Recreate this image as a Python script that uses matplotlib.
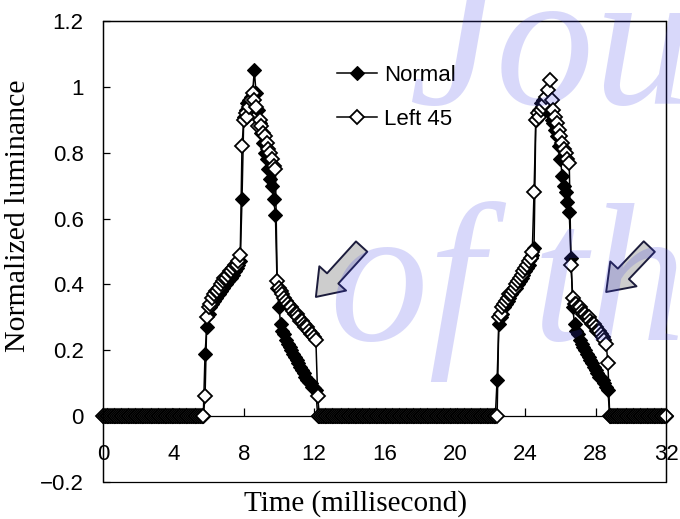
import matplotlib
matplotlib.use("Agg")
import matplotlib.pyplot as plt
from matplotlib.patches import Rectangle
from matplotlib.ticker import FixedLocator, FuncFormatter

# sample times (ms), one row per millisecond
time_ms = [
    0.0, 0.1, 0.2, 0.3, 0.4, 0.5, 0.6, 0.7, 0.8, 0.9,
    1.0, 1.1, 1.2, 1.3, 1.4, 1.5, 1.6, 1.7, 1.8, 1.9,
    2.0, 2.1, 2.2, 2.3, 2.4, 2.5, 2.6, 2.7, 2.8, 2.9,
    3.0, 3.1, 3.2, 3.3, 3.4, 3.5, 3.6, 3.7, 3.8, 3.9,
    4.0, 4.1, 4.2, 4.3, 4.4, 4.5, 4.6, 4.7, 4.8, 4.9,
    5.0, 5.1, 5.2, 5.3, 5.4, 5.5, 5.6, 5.7, 5.8, 5.9,
    6.0, 6.1, 6.2, 6.3, 6.4, 6.5, 6.6, 6.7, 6.8, 6.9,
    7.0, 7.1, 7.2, 7.3, 7.4, 7.5, 7.6, 7.7, 7.8, 7.9,
    8.0, 8.1, 8.2, 8.3, 8.4, 8.5, 8.6, 8.7, 8.8, 8.9,
    9.0, 9.1, 9.2, 9.3, 9.4, 9.5, 9.6, 9.7, 9.8, 9.9,
    10.0, 10.1, 10.2, 10.3, 10.4, 10.5, 10.6, 10.7, 10.8, 10.9,
    11.0, 11.1, 11.2, 11.3, 11.4, 11.5, 11.6, 11.7, 11.8, 11.9,
    12.0, 12.1, 12.2, 12.3, 12.4, 12.5, 12.6, 12.7, 12.8, 12.9,
    13.0, 13.1, 13.2, 13.3, 13.4, 13.5, 13.6, 13.7, 13.8, 13.9,
    14.0, 14.1, 14.2, 14.3, 14.4, 14.5, 14.6, 14.7, 14.8, 14.9,
    15.0, 15.1, 15.2, 15.3, 15.4, 15.5, 15.6, 15.7, 15.8, 15.9,
    16.0, 16.1, 16.2, 16.3, 16.4, 16.5, 16.6, 16.7, 16.8, 16.9,
    17.0, 17.1, 17.2, 17.3, 17.4, 17.5, 17.6, 17.7, 17.8, 17.9,
    18.0, 18.1, 18.2, 18.3, 18.4, 18.5, 18.6, 18.7, 18.8, 18.9,
    19.0, 19.1, 19.2, 19.3, 19.4, 19.5, 19.6, 19.7, 19.8, 19.9,
    20.0, 20.1, 20.2, 20.3, 20.4, 20.5, 20.6, 20.7, 20.8, 20.9,
    21.0, 21.1, 21.2, 21.3, 21.4, 21.5, 21.6, 21.7, 21.8, 21.9,
    22.0, 22.1, 22.2, 22.3, 22.4, 22.5, 22.6, 22.7, 22.8, 22.9,
    23.0, 23.1, 23.2, 23.3, 23.4, 23.5, 23.6, 23.7, 23.8, 23.9,
    24.0, 24.1, 24.2, 24.3, 24.4, 24.5, 24.6, 24.7, 24.8, 24.9,
    25.0, 25.1, 25.2, 25.3, 25.4, 25.5, 25.6, 25.7, 25.8, 25.9,
    26.0, 26.1, 26.2, 26.3, 26.4, 26.5, 26.6, 26.7, 26.8, 26.9,
    27.0, 27.1, 27.2, 27.3, 27.4, 27.5, 27.6, 27.7, 27.8, 27.9,
    28.0, 28.1, 28.2, 28.3, 28.4, 28.5, 28.6, 28.7, 28.8, 28.9,
    29.0, 29.1, 29.2, 29.3, 29.4, 29.5, 29.6, 29.7, 29.8, 29.9,
    30.0, 30.1, 30.2, 30.3, 30.4, 30.5, 30.6, 30.7, 30.8, 30.9,
    31.0, 31.1, 31.2, 31.3, 31.4, 31.5, 31.6, 31.7, 31.8, 31.9,
    32.0,
]

# normalized luminance, normal view
normal = [
    0, 0, 0, 0, 0, 0, 0, 0, 0, 0,
    0, 0, 0, 0, 0, 0, 0, 0, 0, 0,
    0, 0, 0, 0, 0, 0, 0, 0, 0, 0,
    0, 0, 0, 0, 0, 0, 0, 0, 0, 0,
    0, 0, 0, 0, 0, 0, 0, 0, 0, 0,
    0, 0, 0, 0, 0, 0, 0, 0, 0.19, 0.27,
    0.31, 0.33, 0.34, 0.35, 0.36, 0.37, 0.37, 0.38, 0.39, 0.40,
    0.40, 0.41, 0.42, 0.42, 0.43, 0.44, 0.45, 0.46, 0.47, 0.66,
    0.91, 0.93, 0.95, 0.96, 0.97, 0.98, 1.05, 0.98, 0.93, 0.89,
    0.86, 0.83, 0.80, 0.78, 0.75, 0.72, 0.70, 0.66, 0.61, 0.39,
    0.33, 0.28, 0.26, 0.25, 0.23, 0.22, 0.21, 0.20, 0.19, 0.18,
    0.17, 0.16, 0.15, 0.14, 0.13, 0.12, 0.11, 0.105, 0.10, 0.09,
    0.085, 0.08, 0, 0, 0, 0, 0, 0, 0, 0,
    0, 0, 0, 0, 0, 0, 0, 0, 0, 0,
    0, 0, 0, 0, 0, 0, 0, 0, 0, 0,
    0, 0, 0, 0, 0, 0, 0, 0, 0, 0,
    0, 0, 0, 0, 0, 0, 0, 0, 0, 0,
    0, 0, 0, 0, 0, 0, 0, 0, 0, 0,
    0, 0, 0, 0, 0, 0, 0, 0, 0, 0,
    0, 0, 0, 0, 0, 0, 0, 0, 0, 0,
    0, 0, 0, 0, 0, 0, 0, 0, 0, 0,
    0, 0, 0, 0, 0, 0, 0, 0, 0, 0,
    0, 0, 0, 0, 0.11, 0.28, 0.30, 0.31, 0.33, 0.34,
    0.35, 0.36, 0.37, 0.38, 0.39, 0.39, 0.40, 0.41, 0.42, 0.43,
    0.44, 0.45, 0.46, 0.48, 0.49, 0.51, 0.90, 0.91, 0.93, 0.95,
    0.96, 0.95, 0.94, 0.93, 0.92, 0.90, 0.89, 0.87, 0.85, 0.82,
    0.78, 0.73, 0.70, 0.68, 0.65, 0.62, 0.48, 0.33, 0.28, 0.26,
    0.25, 0.23, 0.22, 0.21, 0.20, 0.19, 0.18, 0.17, 0.16, 0.15,
    0.14, 0.13, 0.12, 0.115, 0.11, 0.10, 0.09, 0.08, 0, 0,
    0, 0, 0, 0, 0, 0, 0, 0, 0, 0,
    0, 0, 0, 0, 0, 0, 0, 0, 0, 0,
    0, 0, 0, 0, 0, 0, 0, 0, 0, 0,
    0,
]

# normalized luminance, viewed from left 45 deg
left45 = [
    0, 0, 0, 0, 0, 0, 0, 0, 0, 0,
    0, 0, 0, 0, 0, 0, 0, 0, 0, 0,
    0, 0, 0, 0, 0, 0, 0, 0, 0, 0,
    0, 0, 0, 0, 0, 0, 0, 0, 0, 0,
    0, 0, 0, 0, 0, 0, 0, 0, 0, 0,
    0, 0, 0, 0, 0, 0, 0, 0, 0.06, 0.30,
    0.33, 0.34, 0.36, 0.37, 0.38, 0.38, 0.39, 0.40, 0.41, 0.42,
    0.42, 0.43, 0.44, 0.44, 0.45, 0.46, 0.46, 0.47, 0.49, 0.82,
    0.90, 0.92, 0.91, 0.94, 0.96, 0.98, 0.96, 0.94, 0.88, 0.90,
    0.88, 0.86, 0.85, 0.83, 0.81, 0.80, 0.78, 0.76, 0.75, 0.41,
    0.39, 0.38, 0.37, 0.36, 0.35, 0.34, 0.33, 0.33, 0.32, 0.31,
    0.31, 0.30, 0.29, 0.29, 0.28, 0.27, 0.27, 0.26, 0.25, 0.25,
    0.24, 0.23, 0.06, 0, 0, 0, 0, 0, 0, 0,
    0, 0, 0, 0, 0, 0, 0, 0, 0, 0,
    0, 0, 0, 0, 0, 0, 0, 0, 0, 0,
    0, 0, 0, 0, 0, 0, 0, 0, 0, 0,
    0, 0, 0, 0, 0, 0, 0, 0, 0, 0,
    0, 0, 0, 0, 0, 0, 0, 0, 0, 0,
    0, 0, 0, 0, 0, 0, 0, 0, 0, 0,
    0, 0, 0, 0, 0, 0, 0, 0, 0, 0,
    0, 0, 0, 0, 0, 0, 0, 0, 0, 0,
    0, 0, 0, 0, 0, 0, 0, 0, 0, 0,
    0, 0, 0, 0, 0, 0.30, 0.31, 0.33, 0.34, 0.35,
    0.36, 0.37, 0.37, 0.38, 0.39, 0.40, 0.41, 0.42, 0.43, 0.44,
    0.45, 0.46, 0.47, 0.48, 0.50, 0.68, 0.90, 0.92, 0.91, 0.93,
    0.94, 0.95, 0.97, 0.99, 1.02, 0.96, 0.93, 0.91, 0.89, 0.87,
    0.85, 0.83, 0.81, 0.80, 0.78, 0.77, 0.46, 0.36, 0.34, 0.34,
    0.33, 0.33, 0.32, 0.31, 0.31, 0.30, 0.30, 0.29, 0.28, 0.28,
    0.27, 0.26, 0.26, 0.25, 0.24, 0.23, 0.22, 0.16, 0, 0,
    0, 0, 0, 0, 0, 0, 0, 0, 0, 0,
    0, 0, 0, 0, 0, 0, 0, 0, 0, 0,
    0, 0, 0, 0, 0, 0, 0, 0, 0, 0,
    0,
]

series_labels = ["Normal", "Left 45"]
x_ticks = [0, 4, 8, 12, 16, 20, 24, 28, 32]
y_ticks = [-0.2, 0, 0.2, 0.4, 0.6, 0.8, 1.0, 1.2]

# block arrows: (tail, tip) in data coords
arrows = [((14.7, 0.515), (12.1, 0.362)),
          ((31.05, 0.515), (28.6, 0.377))]


def fmt_y(v, pos):
    s = "%g" % round(v, 2)
    return s.replace("-", "\u2212")


def main():
    plt.rcParams["font.family"] = ["Liberation Sans", "DejaVu Sans"]

    fig = plt.figure(figsize=(6.8, 5.19), dpi=100)
    ax = fig.add_axes([0.1515, 0.0713, 0.8279, 0.8882])

    ax.plot(time_ms, normal, "-", color="k", lw=1.1, marker="D", ms=6.8,
            mfc="k", mec="k", mew=0.8, label=series_labels[0], clip_on=False, zorder=3)
    ax.plot(time_ms, left45, "-", color="k", lw=1.1, marker="D", ms=6.8,
            mfc="white", mec="k", mew=1.3, label=series_labels[1], clip_on=False, zorder=4)

    ax.set_xlim(0, 32)
    ax.set_ylim(-0.2, 1.2)

    # x axis sits on y = 0, outer box drawn separately
    ax.spines["bottom"].set_position(("data", 0))
    for s in ax.spines.values():
        s.set_linewidth(0.9)
    ax.add_patch(Rectangle((0, 0), 1, 1, transform=ax.transAxes, fill=False,
                           lw=0.9, ec="k", clip_on=False, zorder=5))

    ax.xaxis.set_major_locator(FixedLocator(x_ticks))
    ax.yaxis.set_major_locator(FixedLocator(y_ticks))
    ax.yaxis.set_major_formatter(FuncFormatter(fmt_y))
    ax.tick_params(axis="x", direction="in", length=6, width=0.9, pad=20, labelsize=16)
    ax.tick_params(axis="y", direction="in", length=5, width=0.9, pad=14, labelsize=16)

    ax.set_xlabel("Time (millisecond)", family="Liberation Serif", fontsize=21, va="center")
    ax.xaxis.set_label_coords(0.449, -0.046)
    ax.set_ylabel("Normalized luminance", family="Liberation Serif", fontsize=21.5, va="center")
    ax.yaxis.set_label_coords(-0.151, 0.577)

    ax.legend(loc="upper left", bbox_to_anchor=(0.4156, 0.905), frameon=False,
              fontsize=16, handlelength=1.8, handletextpad=0.3, labelspacing=1.05,
              borderpad=0, borderaxespad=0)

    for tail, tip in arrows:
        ax.annotate("", xy=tip, xytext=tail,
                    arrowprops=dict(arrowstyle="simple,head_length=1.8,head_width=2.6,tail_width=1.1",
                                    mutation_scale=10, fc="#cdcdcd", ec="#1c1c3c", lw=1.4,
                                    shrinkA=0, shrinkB=0),
                    zorder=6)

    # faint journal watermark over the plot
    wm = dict(family="Liberation Serif", style="italic", fontsize=142,
              color=(0.25, 0.25, 0.9), alpha=0.2, va="baseline", zorder=10)
    fig.text(0.60, 0.80, "Journal", **wm)
    fig.text(0.485, 0.345, "of the", **wm)

    fig.savefig("out.png", dpi=100)


if __name__ == "__main__":
    main()
